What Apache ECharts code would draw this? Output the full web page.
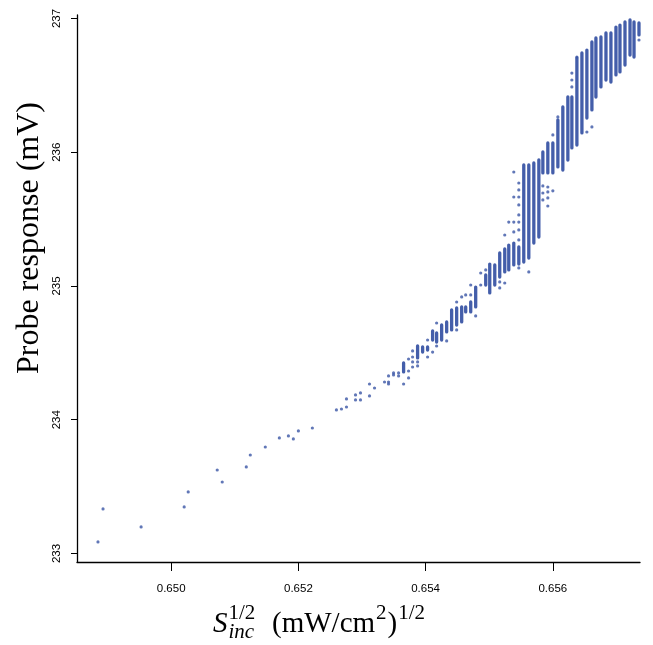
<!DOCTYPE html>
<html>
<head>
<meta charset="utf-8">
<script src="https://cdn.jsdelivr.net/npm/echarts@6/dist/echarts.min.js"></script>
<style>
html,body{margin:0;padding:0;background:#fff;}
#c{width:653px;height:645px;}
</style>
</head>
<body>
<div id="c"></div>
<script>
// ---- data ----
var xTicks = [0.650, 0.652, 0.654, 0.656];
var yTicks = [233, 234, 235, 236, 237];

// dense vertical clusters of readings: x, top y, bottom y
var stripX = [0.657354,0.657276,0.657213,0.657134,0.657055,0.656992,0.656913,0.656835,0.656756,0.656677,
  0.656614,0.656535,0.656457,0.656378,0.656299,0.656236,0.656157,0.656079,0.656000,0.655921,
  0.655843,0.655780,0.655701,0.655622,0.655543,0.655465,0.655386,0.655307,0.655244,0.655165,
  0.655087,0.655008,0.654945,0.654787,0.654709,0.654630,0.654567,0.654488,0.654409,0.654331,
  0.654252,0.654173,0.654110,0.654031,0.653953,0.653874,0.653654];
var stripTop = [236.966,236.974,236.989,236.974,236.951,236.936,236.892,236.892,236.862,236.854,
  236.824,236.764,236.742,236.705,236.413,236.413,236.338,236.241,236.069,236.069,
  236.002,235.942,235.920,235.905,235.905,235.292,235.321,235.306,235.277,235.247,
  235.157,235.164,235.082,234.992,234.880,234.843,234.843,234.836,234.821,234.731,
  234.708,234.649,234.664,234.544,234.544,234.551,234.424];
var stripBottom = [236.877,236.712,236.727,236.652,236.600,236.578,236.525,236.540,236.488,236.413,
  236.316,236.256,236.144,236.054,236.032,235.942,235.867,235.890,235.845,235.845,
  235.845,235.366,235.321,235.209,235.179,235.164,235.157,235.120,235.105,235.067,
  235.007,234.948,235.007,234.843,234.806,234.806,234.731,234.708,234.671,234.656,
  234.596,234.581,234.596,234.521,234.506,234.462,234.357];

// isolated readings
var ptX = [0.657354,0.656614,0.656535,0.656299,0.656299,0.656299,0.656378,0.656079,0.656000,0.656000,
  0.655921,0.655921,0.655921,0.655921,0.655843,0.655843,0.655843,0.655622,
  0.655465,0.655465,0.655465,0.655465,0.655465,0.655465,0.655465,0.655465,0.655465,
  0.655386,0.655386,0.655386,0.655386,0.655307,0.655244,0.655244,0.655165,0.655165,
  0.654945,0.654866,0.654866,0.654787,0.654709,0.654709,0.654630,0.654567,0.654488,0.654488,
  0.654331,0.654173,0.654173,0.654110,0.654031,0.654031,0.653874,0.653874,
  0.653795,0.653795,0.653795,0.653795,0.653732,0.653732,0.653732,0.653654,
  0.653575,0.653575,0.653496,0.653496,0.653417,0.653417,0.653417,0.653354,
  0.653197,0.653118,0.653118,0.652976,0.652976,0.652898,0.652898,0.652756,0.652756,
  0.652677,0.652598,0.652220,0.652000,0.651921,0.651843,0.651701,0.651480,0.651244,
  0.651181,0.650803,0.650724,0.650268,0.650205,0.649528,0.648929,0.648850];
var ptY = [236.839,236.189,236.151,236.592,236.540,236.488,236.712,236.264,236.129,235.711,
  235.740,235.703,235.658,235.598,235.748,235.695,235.643,235.105,
  235.770,235.718,235.665,235.606,235.531,235.478,235.419,235.344,235.135,
  235.852,235.665,235.478,235.404,235.478,235.381,235.022,235.030,234.985,
  235.120,235.097,235.007,234.776,235.007,234.933,234.933,234.918,234.880,234.671,
  234.589,234.723,234.551,234.506,234.596,234.469,234.432,234.402,
  234.514,234.469,234.432,234.394,234.454,234.364,234.312,234.267,
  234.350,234.327,234.350,234.335,234.327,234.282,234.267,234.282,
  234.237,234.267,234.178,234.200,234.148,234.185,234.148,234.155,234.095,
  234.080,234.073,233.938,233.916,233.856,233.879,233.864,233.796,233.736,
  233.647,233.534,233.624,233.460,233.348,233.198,233.333,233.086];

var xMin = 0.64852, xMax = 0.65737;
var yMin = 232.936, yMax = 237.026;

// ---- chart ----
var COLOR = '#3a55a5';
var stripData = stripX.map(function(x, i){ return [x, stripTop[i], stripBottom[i]]; });
var ptData = ptX.map(function(x, i){ return [x, ptY[i]]; });

var chart = echarts.init(document.getElementById('c'), null, {renderer:'canvas'});

// x-axis title pieces laid out with measured widths
var cv = document.createElement('canvas').getContext('2d');
function tw(t, f){ cv.font = f; return cv.measureText(t).width; }
var FM = 29, FS = 21;
var fMain = FM + 'px "Liberation Serif"', fMainI = 'italic ' + FM + 'px "Liberation Serif"';
var fSc = FS + 'px "Liberation Serif"', fScI = 'italic ' + FS + 'px "Liberation Serif"';
var base = 634, supBase = 621, subBase = 640;
function yFor(b, f){ return b - 0.34 * f; }
function piece(x, b, f, fs, t){
  return {type:'text', x:x, y:yFor(b, fs), style:{text:t, font:f, fill:'#000', align:'left', verticalAlign:'middle'}};
}
var parts = [];
var gx = 213;
parts.push(piece(gx, base, fMainI, FM, 'S'));
gx += tw('S', fMainI) + 1;
parts.push(piece(gx, supBase, fSc, FS, '1/2'));
parts.push(piece(gx, subBase, fScI, FS, 'inc'));
gx = 272;
parts.push(piece(gx, base, fMain, FM, '(mW/cm'));
gx += tw('(mW/cm', fMain) + 1;
parts.push(piece(gx, supBase, fSc, FS, '2'));
gx += tw('2', fSc) + 1;
parts.push(piece(gx, base, fMain, FM, ')'));
gx += tw(')', fMain) + 1;
parts.push(piece(gx, supBase, fSc, FS, '1/2'));

parts.push({type:'text', x:30, y:238, rotation:Math.PI/2,
  style:{text:'Probe response (mV)', font:'32px "Liberation Serif"', fill:'#000', align:'center', verticalAlign:'middle'}});

var tickFont = '"Liberation Sans Narrow", "Liberation Sans", Arial, sans-serif';

var option = {
  animation: false,
  backgroundColor: '#ffffff',
  grid: {left:77, right:13, top:15, bottom:83, containLabel:false},
  xAxis: {
    type:'value', min:xMin, max:xMax,
    splitLine:{show:false},
    axisLine:{show:true, onZero:false, lineStyle:{color:'#000', width:1.3}},
    axisTick:{show:true, inside:false, length:9, customValues:xTicks, lineStyle:{color:'#000', width:1}},
    axisLabel:{show:true, customValues:xTicks, margin:21, fontSize:11.5, fontFamily:tickFont, color:'#000',
      formatter:function(v){ return v.toFixed(3); }}
  },
  yAxis: {
    type:'value', min:yMin, max:yMax,
    splitLine:{show:false},
    axisLine:{show:true, onZero:false, lineStyle:{color:'#000', width:1.3}},
    axisTick:{show:true, inside:false, length:6, customValues:yTicks, lineStyle:{color:'#000', width:1}},
    axisLabel:{show:true, customValues:yTicks, rotate:90, margin:14, fontSize:11.5, fontFamily:tickFont, color:'#000',
      formatter:function(v){ return String(Math.round(v)); }}
  },
  graphic: parts,
  series: [
    {
      type:'custom',
      data: stripData,
      encode:{x:0, y:[1,2]},
      renderItem:function(params, api){
        var t = api.coord([api.value(0), api.value(1)]);
        var b = api.coord([api.value(0), api.value(2)]);
        var w = 3.3;
        return {type:'rect', shape:{x:t[0]-w/2, y:t[1]-w/2, width:w, height:(b[1]-t[1])+w, r:w/2},
          style:{fill:COLOR, opacity:0.95}};
      }
    },
    {
      type:'scatter',
      data: ptData,
      symbol:'circle',
      symbolSize:3.2,
      itemStyle:{color:COLOR}
    }
  ]
};
chart.setOption(option);
</script>
</body>
</html>
